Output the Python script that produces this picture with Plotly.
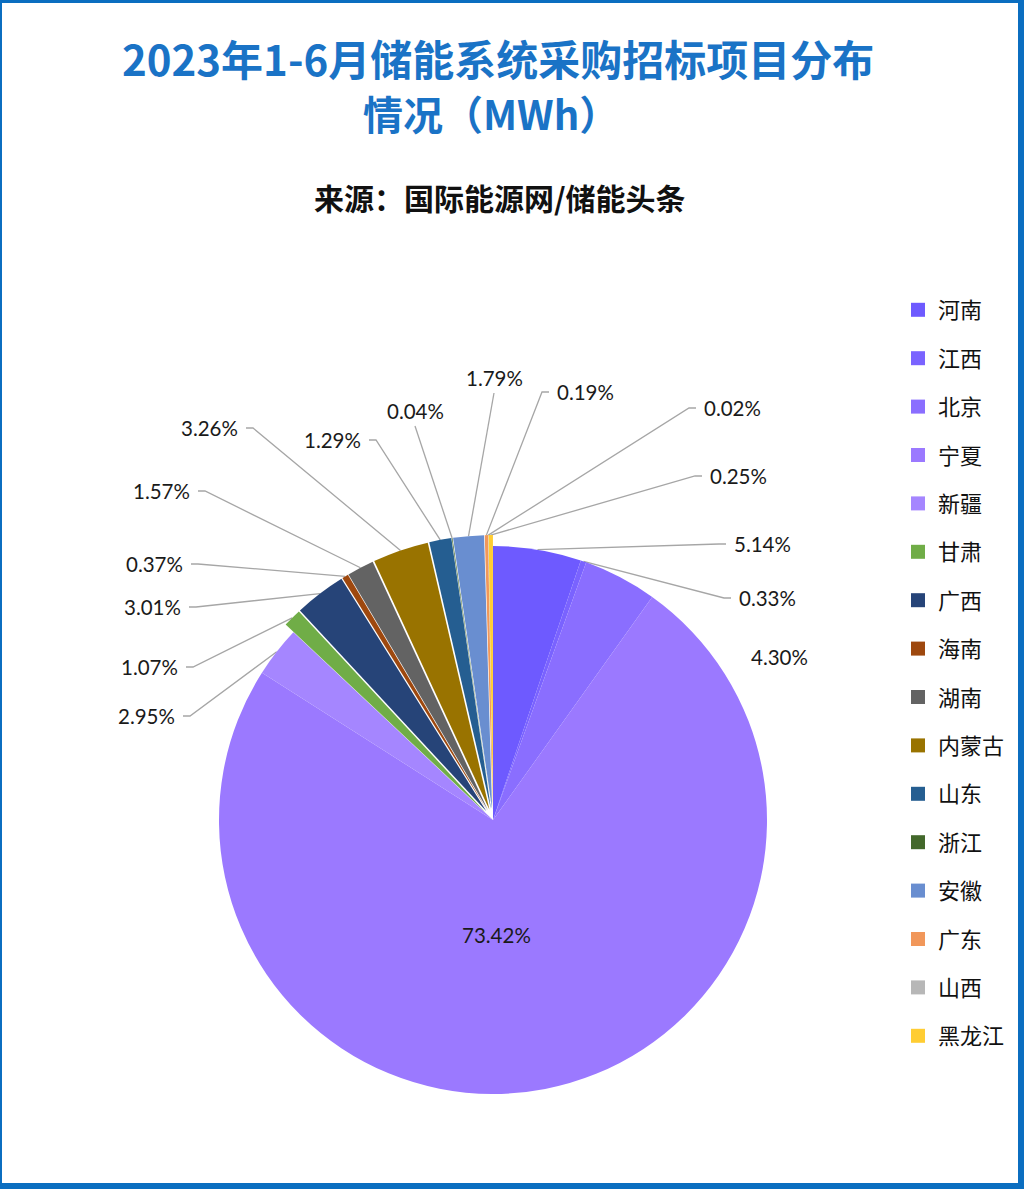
import math
import plotly.graph_objects as go

# ---------------- data ----------------
provinces = ["河南", "江西", "北京", "宁夏", "新疆", "甘肃", "广西", "海南",
             "湖南", "内蒙古", "山东", "浙江", "安徽", "广东", "山西", "黑龙江"]
shares = [5.14, 0.33, 4.30, 73.42, 2.95, 1.07, 3.01, 0.37,
          1.57, 3.26, 1.29, 0.04, 1.79, 0.19, 0.02, 0.25]
share_labels = ["5.14%", "0.33%", "4.30%", "73.42%", "2.95%", "1.07%", "3.01%", "0.37%",
                "1.57%", "3.26%", "1.29%", "0.04%", "1.79%", "0.19%", "0.02%", "0.25%"]

title_line1 = "2023年1-6月储能系统采购招标项目分布"
title_line2 = "情况（MWh）"
subtitle = "来源：国际能源网/储能头条"

# ---------------- style / layout constants ----------------
colors = ["#6E5AFF", "#7A63FF", "#8A6EFF", "#9B79FF", "#A586FF", "#70AD47", "#264478", "#9E480E",
          "#636363", "#997300", "#255E91", "#43682B", "#698ED0", "#F1975A", "#B7B7B7", "#FFCD33"]
pulls = [0, 0, 0, 0, 0, 0.04, 0.04, 0.04, 0.04, 0.04, 0.04, 0.04, 0.04, 0.04, 0.04, 0.04]

W, H = 1024, 1189
CX, CY, R = 493, 820, 274          # pie centre and base radius in pixels
MAXPULL = max(pulls)
BOX = R * (1 + MAXPULL)            # half size of pie domain box

# label placement (side, x, y): 'L' text right edge, 'R' text left edge,
# 'B' text centre with line from below, 'N' no leader line, 'I' inside
label_layout = [
    ("R", 732, 544), ("R", 737, 598), ("N", 749, 657), ("I", 496, 935),
    ("L", 177, 716), ("L", 180, 667), ("L", 183, 607), ("L", 185, 564),
    ("L", 192, 491), ("L", 240, 428), ("L", 363, 440), ("B", 415, 411),
    ("B", 494, 378), ("R", 555, 392), ("R", 702, 408), ("R", 708, 476),
]

LABEL_FONT = dict(family="Lato, 'Open Sans', sans-serif", size=20.5, color="#1A1A1A")
LEADER = "#A6A6A6"


def px(x):
    return x / W


def py(y):
    return 1 - y / H


fig = go.Figure()

fig.add_trace(go.Pie(
    labels=provinces,
    values=shares,
    sort=False,
    direction="clockwise",
    rotation=0,
    pull=pulls,
    marker=dict(colors=colors, line=dict(width=0)),
    textinfo="none",
    hoverinfo="label+percent",
    showlegend=False,
    domain=dict(x=[px(CX - BOX), px(CX + BOX)], y=[py(CY + BOX), py(CY - BOX)]),
))

# legend built from invisible marker traces (for per-item spacing)
for name, col in zip(provinces, colors):
    fig.add_trace(go.Scatter(
        x=[None], y=[None], mode="markers", name=name, legendgroup=name,
        marker=dict(symbol="square", size=14, color=col),
        showlegend=True, hoverinfo="skip",
    ))

# ---------- percentage labels and leader lines ----------
total = sum(shares)
annotations = []
shapes = []
cum = 0.0
for i, (val, txt) in enumerate(zip(shares, share_labels)):
    mid = (cum + val / 2) / total * 2 * math.pi
    cum += val
    rr = R * (1 + pulls[i])
    ex = CX + rr * math.sin(mid)
    ey = CY - rr * math.cos(mid)
    side, lx, ly = label_layout[i]
    if side == "L":
        annotations.append(dict(x=px(lx), y=py(ly), text=txt, xanchor="right", yanchor="middle",
                                showarrow=False, font=LABEL_FONT, xref="paper", yref="paper"))
        path = f"M{px(lx + 6)},{py(ly)} L{px(lx + 13)},{py(ly)} L{px(ex)},{py(ey)}"
    elif side == "R":
        annotations.append(dict(x=px(lx), y=py(ly), text=txt, xanchor="left", yanchor="middle",
                                showarrow=False, font=LABEL_FONT, xref="paper", yref="paper"))
        path = f"M{px(lx - 6)},{py(ly)} L{px(lx - 13)},{py(ly)} L{px(ex)},{py(ey)}"
    elif side == "B":
        annotations.append(dict(x=px(lx), y=py(ly), text=txt, xanchor="center", yanchor="middle",
                                showarrow=False, font=LABEL_FONT, xref="paper", yref="paper"))
        path = f"M{px(lx)},{py(ly + 15)} L{px(ex)},{py(ey)}"
    else:
        xa = "left" if side == "N" else "center"
        annotations.append(dict(x=px(lx), y=py(ly), text=txt, xanchor=xa, yanchor="middle",
                                showarrow=False, font=LABEL_FONT, xref="paper", yref="paper"))
        path = None
    if path:
        shapes.append(dict(type="path", path=path, xref="paper", yref="paper",
                           line=dict(color=LEADER, width=1.3), layer="below"))

# ---------- titles ----------
TITLE_BLUE = "#1A73C6"
CJK = "'Noto Sans CJK SC', sans-serif"
annotations.append(dict(x=px(498), y=py(57), text=f"<b>{title_line1}</b>", showarrow=False,
                        xanchor="center", yanchor="middle", xref="paper", yref="paper",
                        font=dict(family=CJK, size=42, color=TITLE_BLUE)))
annotations.append(dict(x=px(491), y=py(113), text=f"<b>{title_line2}</b>", showarrow=False,
                        xanchor="center", yanchor="middle", xref="paper", yref="paper",
                        font=dict(family=CJK, size=40, color=TITLE_BLUE)))
annotations.append(dict(x=px(500), y=py(197), text=f"<b>{subtitle}</b>", showarrow=False,
                        xanchor="center", yanchor="middle", xref="paper", yref="paper",
                        font=dict(family=CJK, size=30, color="#111111")))

# ---------- frame ----------
FRAME = "#0B6EC0"
for (x0, y0, x1, y1) in [(0, 0, W, 3), (0, 0, 2, H), (W - 6, 0, W, H), (0, H - 6, W, H)]:
    shapes.append(dict(type="rect", xref="paper", yref="paper",
                       x0=px(x0), x1=px(x1), y0=py(y1), y1=py(y0),
                       fillcolor=FRAME, line=dict(width=0), layer="above"))

fig.update_layout(
    width=W, height=H,
    margin=dict(l=0, r=0, t=0, b=0),
    paper_bgcolor="white", plot_bgcolor="white",
    xaxis=dict(visible=False), yaxis=dict(visible=False),
    showlegend=True,
    legend=dict(x=px(898), y=py(289), xanchor="left", yanchor="top",
                font=dict(family=CJK, size=22, color="#111111"),
                tracegroupgap=16.8, bgcolor="rgba(0,0,0,0)", itemclick=False),
    annotations=annotations,
    shapes=shapes,
)

fig.write_html("out.html")
